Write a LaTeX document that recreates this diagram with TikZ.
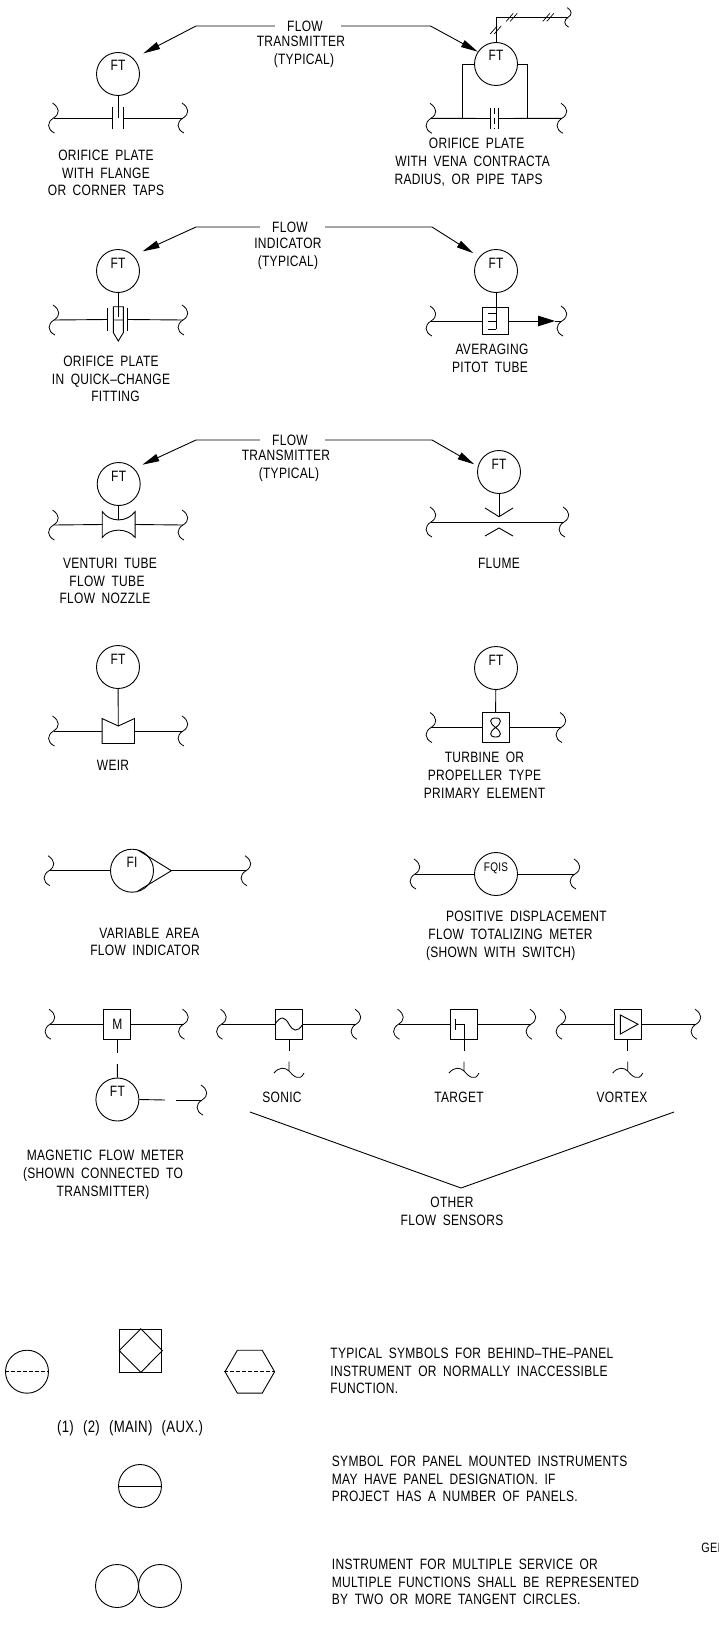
\documentclass[tikz,border=0pt]{standalone}
\usepackage{amsmath, amssymb}
\usepackage{fontspec}
\usepackage{tikz}
\usetikzlibrary{arrows.meta,shapes.geometric}
\setmainfont[FakeStretch=0.8,LetterSpace=2,WordSpace=1.8]{Liberation Sans}
\newcommand{\capfont}{\fontsize{15}{17.8}\selectfont}
\newcommand{\ftlab}[1]{\raisebox{3pt}[0pt][0pt]{#1}}
\tikzset{
	brk/.pic={\draw[line width=0.8pt] (-1,-15) .. controls (6.5,-10) and (6.5,-4) .. (0,0) .. controls (-6.5,4) and (-7,11) .. (1,15);},
	wav/.pic={\draw[line width=0.8pt] (0,-9.5) -- (0,0) (-15,2) .. controls (-10,-4) and (-4,-4) .. (0,0) .. controls (4,5) and (11,11) .. (15,2);},
	hatch/.pic={\draw[line width=0.7pt] (-5.5,4) -- (1.5,-4) (-1.5,4) -- (5.5,-4);}
}

\begin{document}
\begin{tikzpicture}[x=1pt,y=-1pt,line width=0.9pt]
\tikzstyle{every node} = [font=\capfont,inner sep=0pt]
\tikzstyle{capt} = [align=center]
\tikzstyle{note} = [align=left,anchor=west]
\tikzstyle{instr} = [draw,circle,minimum size=43pt]
\tikzstyle{elem} = [draw,rectangle,minimum width=27pt,minimum height=29.7pt]
\tikzstyle{leader} = [-{Triangle[length=17pt,width=7.5pt]}]
\useasboundingbox (0,0) rectangle (719,1627);

% instruments
\path (118,74) node[instr] (ftA) {\ftlab{FT}}
	(496,64) node[instr] (ftB) {\ftlab{FT}}
	(118,271) node[instr] (ftC) {\ftlab{FT}}
	(496,271) node[instr] (ftD) {\ftlab{FT}}
	(118.7,484) node[instr] (ftE) {\ftlab{FT}}
	(499,472) node[instr] (ftG) {\ftlab{FT}}
	(118,667) node[instr] (ftH) {\ftlab{FT}}
	(496,668) node[instr] (ftK) {\ftlab{FT}}
	(132,870.7) node[instr] (fiL) {\ftlab{FI}}
	(496,874) node[instr] (fqM) {\ftlab{\fontsize{12.5}{14}\selectfont FQIS}}
	(117.4,1099.5) node[instr] (ftN) {\ftlab{FT}};

% primary elements
\path (118,118) node[minimum width=10.5pt,minimum height=21pt] (orfA) {}
	(494.5,118.5) node[minimum width=7.6pt,minimum height=21pt] (orfB) {}
	(117.8,319.5) node[minimum width=19pt,minimum height=22pt] (orfC) {}
	(495.3,321) node[elem,minimum width=26pt,minimum height=27.6pt] (aveD) {}
	(118.7,524.5) node[minimum width=32pt,minimum height=25pt] (venE) {}
	(118.3,731) node[minimum width=31.4pt,minimum height=24pt] (weiH) {}
	(495.6,727.5) node[elem] (turK) {}
	(117.3,1024.2) node[elem] (boxN) {M\hspace{5pt}}
	(289,1024.2) node[elem] (boxS) {}
	(464,1024.2) node[elem] (boxT) {}
	(627.7,1024.2) node[elem] (boxV) {};

% pipe ends
\path (53.5,118) coordinate (pAl) pic {brk} (183,118) coordinate (pAr) pic {brk}
	(431,118.3) coordinate (pBl) pic {brk} (562,118.3) coordinate (pBr) pic {brk}
	(54,320) coordinate (pCl) pic {brk} (183,320) coordinate (pCr) pic {brk}
	(431,321) coordinate (pDl) pic {brk} (562,321) coordinate (pDr) pic {brk}
	(53.5,525) coordinate (pEl) pic {brk} (183,525) coordinate (pEr) pic {brk}
	(431,522) coordinate (pGl) pic {brk} (564,522) coordinate (pGr) pic {brk}
	(53.5,731) coordinate (pHl) pic {brk} (183,731) coordinate (pHr) pic {brk}
	(431,727.5) coordinate (pKl) pic {brk} (561,727.5) coordinate (pKr) pic {brk}
	(49,870.7) coordinate (pLl) pic {brk} (246,870.7) coordinate (pLr) pic {brk}
	(415,874) coordinate (pMl) pic {brk} (575,874) coordinate (pMr) pic {brk}
	(50,1024.2) coordinate (pNl) pic {brk} (183.5,1024.2) coordinate (pNr) pic {brk}
	(221.5,1024.2) coordinate (pSl) pic {brk} (356,1024.2) coordinate (pSr) pic {brk}
	(398.5,1024.2) coordinate (pTl) pic {brk} (531,1024.2) coordinate (pTr) pic {brk}
	(561,1024.2) coordinate (pVl) pic {brk} (696,1024.2) coordinate (pVr) pic {brk}
	(202,1100) coordinate (sigN) pic {brk}
	(568,17.4) coordinate (sigB) pic[scale=0.65] {brk};

% orifice plates
\draw (orfA.north west) -- (orfA.south west) (orfA.north east) -- (orfA.south east);
\draw (orfB.north west) -- (orfB.south west) (orfB.north east) -- (orfB.south east);
\draw[dash pattern=on 6pt off 4pt] (orfB.north) -- (orfB.south);
\draw (orfC.north west) -- (orfC.south west) (orfC.north east) -- (orfC.south east);
\draw (113.3,306.7) rectangle (123.3,320) (113.3,320) -- (113.3,332.7) -- (118.3,341) -- (123.3,332.7) -- (123.3,320);

\draw (pAl) -- (orfA.west) (orfA.east) -- (pAr);
\draw (pBl) -- (orfB.west) (orfB.east) -- (pBr);
\draw (pCl) -- (orfC.west) (orfC.east) -- (pCr);
\draw (ftA) -- (orfA.center);
\draw (ftC) -- (118,317.3);
\draw (ftB.west) -| (462.3,118.3);
\draw (ftB.east) -| (527.4,118.3);
\draw (ftB.north) |- (sigB);
\path (495.7,30) pic {hatch} (511.7,17.4) pic {hatch} (548.3,17.4) pic {hatch};

% averaging pitot tube
\draw (ftD) -- (496,329.3);
\draw (488.3,313.3) -- (496,313.3) (488.3,321) -- (496,321) (488.3,329.3) -- (496,329.3);
\draw (pDl) -- (aveD.west);
\draw[-{Triangle[length=17pt,width=10.5pt]}] (aveD.east) -- (555,321);
\draw (555,321) -- (pDr);

% venturi, flume, weir
\draw (venE.north west) .. controls (110,522.7) and (127,522.7) .. (venE.north east) -- (venE.south east) .. controls (127,527.7) and (110,527.7) .. (venE.south west) -- cycle;
\draw (pEl) -- (venE.west) (venE.east) -- (pEr);
\draw (ftE) -- (118.7,519.5);
\draw (pGl) -- (pGr);
\draw (ftG) -- (499,516.7);
\draw (485,508) -- (499,516.7) -- (513,508);
\draw (485,536) -- (499,528) -- (513,536);
\draw (weiH.north west) -- (118.3,726) -- (weiH.north east) -- (weiH.south east) -- (weiH.south west) -- cycle;
\draw (pHl) -- (weiH.west) (weiH.east) -- (pHr);
\draw (ftH) -- (118.3,726);

% turbine
\draw (ftK) -- (turK.north);
\draw (pKl) -- (turK.west) (turK.east) -- (pKr);
\draw (495.6,727.5) .. controls (502,723) and (502,718) .. (495.6,718) .. controls (489,718) and (489,723) .. (495.6,727.5) .. controls (502,732) and (502,737) .. (495.6,737) .. controls (489,737) and (489,732) .. (495.6,727.5);

% variable area, positive displacement
\draw (137.8,850) -- (171.4,870.7) -- (137.8,891);
\draw (pLl) -- (fiL.west);
\draw (171.4,870.7) -- (pLr);
\draw (pMl) -- (fqM.west) (fqM.east) -- (pMr);

% magnetic and other sensors
\draw (pNl) -- (boxN.west) (boxN.east) -- (pNr);
\draw (pSl) -- (boxS.west) (boxS.east) -- (pSr);
\draw (pTl) -- (boxT.west) (boxT.east) -- (pTr);
\draw (pVl) -- (boxV.west) (boxV.east) -- (pVr);
\draw (boxN.south) -- (117.3,1053);
\draw (117.3,1064) -- (ftN);
\draw (ftN.east) -- (165,1100);
\draw (175.6,1100) -- (sigN);
\draw (boxS.south) -- (289,1051);
\draw (boxV.south) -- (627.7,1051);
\draw (boxT.center) -- (464,1051);
\draw (boxT.center) -- (455,1024.2);
\draw (455,1019.3) -- (455,1030);
\draw (boxS.west) .. controls (281,1015) and (285,1017) .. (boxS.center) .. controls (293,1031) and (297,1033) .. (boxS.east);
\draw (620.4,1015) -- (620.4,1034) -- (638,1024.2) -- cycle;
\path (289,1071) pic {wav} (464,1071) pic {wav} (627.7,1071) pic {wav};
\draw (250,1112) -- (461,1188) -- (674,1112);

% leaders
\path (305,26) node (flowA) {FLOW}
	(301,52) node[capt] (typA) {TRANSMITTER\\\hspace*{6pt}(TYPICAL)}
	(290,227) node (flowC) {FLOW}
	(288,253.5) node[capt] (typC) {INDICATOR\\(TYPICAL)}
	(290,440) node (flowE) {FLOW}
	(286,466) node[capt] (typE) {TRANSMITTER\\\hspace*{6pt}(TYPICAL)};
\draw[leader,shorten <=12pt,shorten >=11pt] (flowA.west) -- (196,26) -- (ftA.45);
\draw[leader,shorten <=18pt] (flowA.east) -- (430.5,26) -- (ftB.146);
\draw[leader,shorten <=12pt,shorten >=10pt] (flowC.west) -- (196,227) -- (ftC.45);
\draw[leader,shorten <=17pt,shorten >=7pt] (flowC.east) -- (432,227) -- (ftD.140);
\draw[leader,shorten <=12pt,shorten >=9pt] (flowE.west) -- (196,440) -- (ftE.45);
\draw[leader,shorten <=17pt,shorten >=4pt] (flowE.east) -- (432,440) -- (ftG.165);

% captions
\path (106,173) node[capt] (capA) {ORIFICE PLATE\\WITH FLANGE\\OR CORNER TAPS}
	(472.6,162) node[capt] (capB) {\hspace*{8pt}ORIFICE PLATE\\WITH VENA CONTRACTA\\RADIUS, OR PIPE TAPS\hspace*{8pt}}
	(111,379) node[capt] (capC) {ORIFICE PLATE\\IN QUICK--CHANGE\\\hspace*{9pt}FITTING}
	(490,358) node[capt] (capD) {\hspace*{4pt}AVERAGING\\PITOT TUBE}
	(107,581) node[capt] (capE) {\hspace*{6pt}VENTURI TUBE\\FLOW TUBE\\FLOW NOZZLE\hspace*{4pt}}
	(499,563) node (capG) {FLUME}
	(113,765) node (capH) {WEIR}
	(484.5,775) node[capt] (capK) {TURBINE OR\\PROPELLER TYPE\\PRIMARY ELEMENT}
	(145,942) node[capt] (capL) {\hspace*{9pt}VARIABLE AREA\\FLOW INDICATOR}
	(425.6,936) node[note] (capM) {\hspace*{20pt}POSITIVE DISPLACEMENT\\\hspace*{2.4pt}FLOW TOTALIZING METER\\(SHOWN WITH SWITCH)}
	(282,1097) node (capS) {SONIC}
	(459,1097) node (capT) {TARGET}
	(622,1097) node (capV) {VORTEX}
	(103,1175) node[capt] (capN) {\hspace*{5pt}MAGNETIC FLOW METER\\(SHOWN CONNECTED TO\\TRANSMITTER)}
	(452,1211) node[capt] (capO) {OTHER\\FLOW SENSORS};

% panel symbols
\path (27,1371.7) node[instr] (symA) {}
	(140.8,1350.6) node[draw,minimum width=42.2pt,minimum height=42.7pt] (symB) {}
	(249.8,1371.7) node[draw,regular polygon,regular polygon sides=6,minimum size=49.6pt] (symC) {}
	(140,1486) node[instr] (symD) {}
	(117,1586) node[instr] (symE) {}
	(160,1586) node[instr] (symF) {};
\draw[dash pattern=on 4pt off 2pt] (symA.west) -- (symA.east);
\draw (symB.north) -- (symB.east) -- (symB.south) -- (symB.west) -- cycle;
\draw[dash pattern=on 4pt off 2pt] (symC.west) -- (symC.east);
\draw (symD.west) -- (symD.east);

\path (130,1428) node[font=\fontsize{16.5}{18}\selectfont] (numA) {(1)\hspace{2pt} (2)\hspace{2pt} (MAIN)\hspace{2pt} (AUX.)}
	(330,1371) node[note] (txtA) {TYPICAL SYMBOLS FOR BEHIND--THE--PANEL\\INSTRUMENT OR NORMALLY INACCESSIBLE\\FUNCTION.}
	(331.5,1479) node[note] (txtB) {SYMBOL FOR PANEL MOUNTED INSTRUMENTS\\MAY HAVE PANEL DESIGNATION. IF\\PROJECT HAS A NUMBER OF PANELS.}
	(331.5,1582) node[note] (txtC) {INSTRUMENT FOR MULTIPLE SERVICE OR\\MULTIPLE FUNCTIONS SHALL BE REPRESENTED\\BY TWO OR MORE TANGENT CIRCLES.}
	(701,1548) node[anchor=west,font=\fontsize{13.5}{16}\selectfont] (txtD) {GEI};
\end{tikzpicture}
\end{document}
